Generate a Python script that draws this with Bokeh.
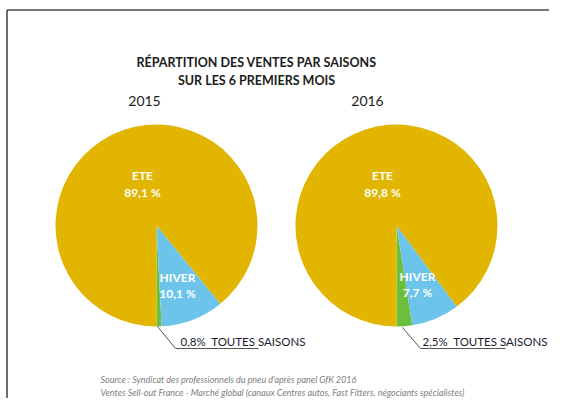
import numpy as np
from bokeh.plotting import figure
from bokeh.models import Range1d, ColumnDataSource
from bokeh.core.properties import value
from bokeh.embed import file_html
from bokeh.resources import INLINE

# ---- data ----
years = ["2015", "2016"]
seasons = ["TOUTES SAISONS", "HIVER", "ETE"]
values_2015 = [0.8, 10.1, 89.1]
values_2016 = [2.5, 7.7, 89.8]
colors = ["#6cbf3c", "#6cc4ea", "#e1b500"]
title_lines = ["RÉPARTITION DES VENTES PAR SAISONS", "SUR LES 6 PREMIERS MOIS"]
source_lines = ["Source : Syndicat des professionnels du pneu d'après panel GfK 2016",
                "Ventes Sell-out France - Marché global (canaux Centres autos, Fast Fitters, négociants spécialistes)"]

W, H = 549, 398
FONT = "Lato"

p = figure(width=W, height=H, output_backend="svg", toolbar_location=None,
           x_range=Range1d(0, W), y_range=Range1d(0, H), min_border=0)
p.axis.visible = False
p.grid.visible = False
p.outline_line_color = None
p.background_fill_color = "white"
p.border_fill_color = "white"

def fmt(v):
    return f"{v:.1f}".replace(".", ",")

# frame
p.line([6.5, W], [388.5, 388.5], line_color="#4a4a4a", line_width=1.6)
p.line([6.5, 6.5], [0, 388.5], line_color="#4a4a4a", line_width=1.6)

# titles
p.text(x=[256, 256], y=[336, 318], text=title_lines, text_align="center", text_baseline="middle",
       text_font=value(FONT), text_font_style="bold", text_font_size="12.5px", text_color="#1c1c1c")

centers = [(156, 173), (396, 173)]
year_pos = [(144, 298), (367, 298)]
ete_pos = [(142, 223), (382, 223)]
hiver_pos = [(177, 121), (417, 122)]
leader_pts = [([157, 175, 258], [72, 50, 50]), ([402, 420, 505], [71, 50, 50])]
leader_text_pos = [(180, 57), (422, 57)]

for i, vals in enumerate([values_2015, values_2016]):
    cx, cy = centers[i]
    v = np.array(vals)
    ends = np.cumsum(v) / 100 * 2 * np.pi - np.pi / 2
    starts = np.concatenate([[-np.pi / 2], ends[:-1]])
    src = ColumnDataSource(dict(start=starts, end=ends, color=colors, season=seasons))
    p.wedge(x=cx, y=cy, radius=101, radius_units="screen", start_angle="start", end_angle="end",
            direction="anticlock", fill_color="color", line_color=None, source=src)
    # year
    p.text(x=[year_pos[i][0]], y=[year_pos[i][1]], text=[years[i]], text_align="center",
           text_baseline="middle", text_font=value(FONT), text_font_size="14px", text_color="#1c1c1c")
    # ETE label
    ex, ey = ete_pos[i]
    p.text(x=[ex, ex], y=[ey, ey - 17], text=[seasons[2], fmt(vals[2]) + " %"], text_align="center",
           text_baseline="middle", text_font=value(FONT), text_font_style="bold",
           text_font_size="12px", text_color="white")
    # HIVER label
    hx, hy = hiver_pos[i]
    p.text(x=[hx, hx], y=[hy, hy - 16], text=[seasons[1], fmt(vals[1]) + " %"], text_align="center",
           text_baseline="middle", text_font=value(FONT), text_font_style="bold",
           text_font_size="12px", text_color="white")
    # leader
    lx, ly = leader_pts[i]
    p.line(lx, ly, line_color="#555555", line_width=1)
    tx, ty = leader_text_pos[i]
    p.text(x=[tx], y=[ty], text=[fmt(vals[0]) + "%\u00a0\u00a0" + seasons[0]], text_align="left",
           text_baseline="middle", text_font=value(FONT), text_font_size="11.5px", text_color="#1a1a2e")

# source
p.text(x=[100, 100], y=[19, 6], text=source_lines, text_align="left", text_baseline="middle",
       text_font=value(FONT), text_font_style="italic", text_font_size="9px", text_color="#808080")

open("out.html", "w").write(file_html(p, INLINE))
